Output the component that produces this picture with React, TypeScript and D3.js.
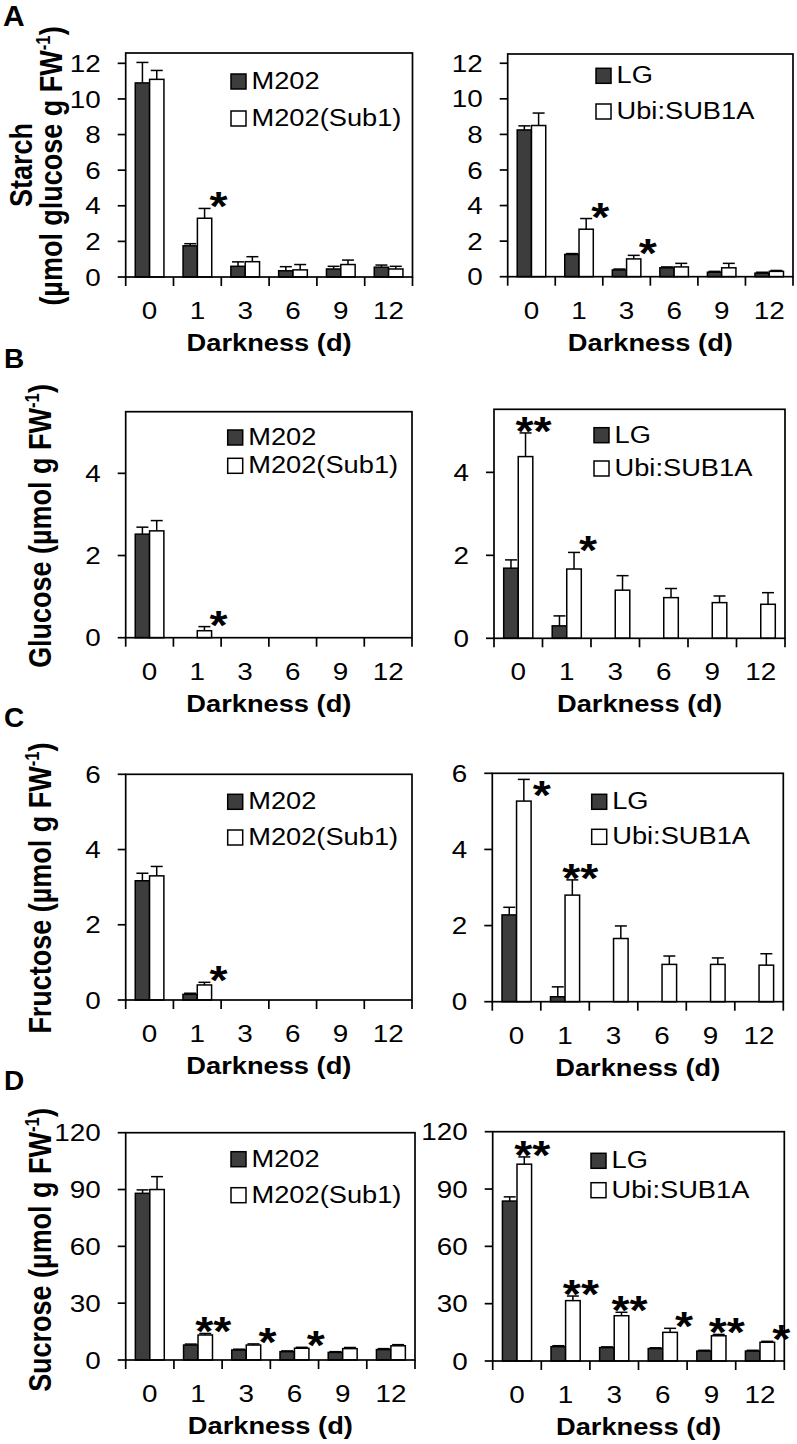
import React from 'react';
import * as d3 from 'd3';

// ---------- data ----------
const DAYS = ['0', '1', '3', '6', '9', '12'];

const starchM202 = [10.9, 1.75, 0.6, 0.35, 0.45, 0.55];
const starchM202Err = [1.15, 0.12, 0.25, 0.23, 0.15, 0.12];
const starchSub1 = [11.1, 3.3, 0.86, 0.4, 0.7, 0.45];
const starchSub1Err = [0.5, 0.55, 0.28, 0.3, 0.25, 0.15];
const starchLG = [8.25, 1.25, 0.38, 0.5, 0.25, 0.2];
const starchLGErr = [0.23, 0.05, 0.05, 0.05, 0.05, 0.05];
const starchUbi = [8.5, 2.67, 1.0, 0.55, 0.5, 0.3];
const starchUbiErr = [0.7, 0.6, 0.2, 0.2, 0.25, 0.05];

const glucoseM202 = [2.52, 0, 0, 0, 0, 0];
const glucoseM202Err = [0.17, 0, 0, 0, 0, 0];
const glucoseSub1 = [2.6, 0.17, 0, 0, 0, 0];
const glucoseSub1Err = [0.25, 0.1, 0, 0, 0, 0];
const glucoseLG = [1.69, 0.3, 0, 0, 0, 0];
const glucoseLGErr = [0.2, 0.24, 0, 0, 0, 0];
const glucoseUbi = [4.38, 1.67, 1.16, 0.98, 0.86, 0.82];
const glucoseUbiErr = [0.57, 0.4, 0.35, 0.22, 0.16, 0.28];

const fructoseM202 = [3.17, 0.15, 0, 0, 0, 0];
const fructoseM202Err = [0.2, 0.03, 0, 0, 0, 0];
const fructoseSub1 = [3.3, 0.4, 0, 0, 0, 0];
const fructoseSub1Err = [0.25, 0.07, 0, 0, 0, 0];
const fructoseLG = [2.28, 0.13, 0, 0, 0, 0];
const fructoseLGErr = [0.2, 0.26, 0, 0, 0, 0];
const fructoseUbi = [5.27, 2.8, 1.66, 0.98, 0.98, 0.96];
const fructoseUbiErr = [0.57, 0.4, 0.33, 0.22, 0.17, 0.3];

const sucroseM202 = [88, 7.9, 5.3, 4.4, 4.0, 5.5];
const sucroseM202Err = [1.8, 0.5, 0.4, 0.4, 0.4, 0.5];
const sucroseSub1 = [90, 13.2, 7.9, 6.2, 6.0, 7.5];
const sucroseSub1Err = [6.8, 0.8, 0.6, 0.5, 0.6, 0.6];
const sucroseLG = [83.7, 7.5, 7.0, 6.5, 5.2, 5.2];
const sucroseLGErr = [2.2, 0.5, 0.4, 0.4, 0.4, 0.4];
const sucroseUbi = [103, 31.6, 23.7, 15, 13.2, 9.8];
const sucroseUbiErr = [3.8, 2.4, 1.8, 2.1, 0.7, 0.5];

const starchTicks = [0, 2, 4, 6, 8, 10, 12];
const glucoseTicks = [0, 2, 4];
const fructoseTicks = [0, 2, 4, 6];
const sucroseTicks = [0, 30, 60, 90, 120];

const leftNames = ['M202', 'M202(Sub1)'];
const rightNames = ['LG', 'Ubi:SUB1A'];

// significance marks: i = index into DAYS
const starsAL = [{ i: 1, s: '*' }];
const starsAR = [{ i: 1, s: '*' }, { i: 2, s: '*' }];
const starsBL = [{ i: 1, s: '*' }];
const starsBR = [{ i: 0, s: '**' }, { i: 1, s: '*' }];
const starsCL = [{ i: 1, s: '*' }];
const starsCR = [{ i: 0, s: '*' }, { i: 1, s: '**' }];
const starsDL = [{ i: 1, s: '**' }, { i: 2, s: '*' }, { i: 3, s: '*' }];
const starsDR = [
  { i: 0, s: '**' }, { i: 1, s: '**' }, { i: 2, s: '**' },
  { i: 3, s: '*' }, { i: 4, s: '**' }, { i: 5, s: '*' },
];

// ---------- style ----------
const SX = 1.16;
const FONT = '"Liberation Sans", Arial, Helvetica, sans-serif';
const DARK = '#3d3d3d';

type TProps = {
  x: number; y: number; size: number; bold?: boolean; anchor?: string;
  rotate?: boolean; plain?: boolean; children: React.ReactNode;
};
function T({ x, y, size, bold, anchor, rotate, plain, children }: TProps) {
  const s = plain ? 1 : SX;
  const tf = rotate
    ? `translate(${x},${y}) rotate(-90) scale(1,${s})`
    : `translate(${x},${y}) scale(${s},1)`;
  return (
    <text transform={tf} fontSize={size} fontWeight={bold ? 'bold' : 'normal'}
      textAnchor={anchor || 'start'} fontFamily={FONT} fill="#000">
      {children}
    </text>
  );
}

function Unit() {
  return (
    <>
      <tspan fontSize="0.62em" dy="-0.6em">-1</tspan>
      <tspan dy="0.37em">)</tspan>
    </>
  );
}

type PanelProps = {
  left: number; right: number; top: number; zero: number; ymax: number;
  ticks: number[];
  a: number[]; aErr: number[]; b: number[]; bErr: number[];
  names: string[];
  leg: { x: number; y: number; gap: number };
  stars: { i: number; s: string }[];
};

function Panel(p: PanelProps) {
  const x = d3.scaleBand<string>().domain(DAYS).range([p.left, p.right]).padding(0);
  const y = d3.scaleLinear().domain([0, p.ymax]).range([p.zero, p.top]);
  const bw = x.bandwidth() * 0.3;
  const cap = 6;
  const bounds = [...DAYS.map((d) => x(d) as number), p.right];

  const bars = (vals: number[], errs: number[], side: number, fill: string) =>
    vals.map((v, i) => {
      const cx = (x(DAYS[i]) as number) + x.bandwidth() / 2;
      const x0 = side === 0 ? cx - bw : cx;
      const yt = y(v);
      const ye = y(v + errs[i]);
      return (
        <g key={`${side}-${i}`}>
          {v > 0 && (
            <rect x={x0} y={yt} width={bw} height={p.zero - yt} fill={fill}
              stroke="#000" strokeWidth={1.5} />
          )}
          {errs[i] > 0 && (
            <>
              <line x1={x0 + bw / 2} x2={x0 + bw / 2} y1={yt} y2={ye} stroke="#000" strokeWidth={1.5} />
              <line x1={x0 + bw / 2 - cap} x2={x0 + bw / 2 + cap} y1={ye} y2={ye} stroke="#000" strokeWidth={1.5} />
            </>
          )}
        </g>
      );
    });

  const starEls = p.stars.map((st, k) => {
    const cx = (x(DAYS[st.i]) as number) + x.bandwidth() / 2 + bw / 2;
    const ye = y(p.b[st.i] + p.bErr[st.i]);
    const fs = 40;
    let sy = ye - 10; // star centre
    let sx = cx + (st.s.length === 2 ? 8 : 14);
    if (sy - 8 < p.top) {
      sy = ye + 8;
      sx = cx + 18;
    }
    return (
      <T key={k} x={sx} y={sy + fs * 0.55} size={fs} bold anchor="middle">
        {st.s}
      </T>
    );
  });

  const midX = (p.left + p.right) / 2;

  return (
    <g>
      {bars(p.a, p.aErr, 0, DARK)}
      {bars(p.b, p.bErr, 1, '#fff')}
      <rect x={p.left} y={p.top} width={p.right - p.left} height={p.zero - p.top}
        fill="none" stroke="#000" strokeWidth={1.7} />
      {p.ticks.map((t) => (
        <g key={t}>
          <line x1={p.left - 8} x2={p.left} y1={y(t)} y2={y(t)} stroke="#000" strokeWidth={1.7} />
          <T x={p.left - 25} y={y(t) + 8.6} size={24} anchor="end">{t}</T>
        </g>
      ))}
      {bounds.map((bx, i) => (
        <line key={i} x1={bx} x2={bx} y1={p.zero} y2={p.zero + 9} stroke="#000" strokeWidth={1.7} />
      ))}
      {DAYS.map((d) => (
        <T key={d} x={(x(d) as number) + x.bandwidth() / 2} y={p.zero + 42} size={24} anchor="middle">{d}</T>
      ))}
      <T x={midX} y={p.zero + 74} size={23.5} bold anchor="middle">Darkness (d)</T>
      {/* legend */}
      <rect x={p.leg.x} y={p.leg.y} width={15} height={15} fill={DARK} stroke="#000" strokeWidth={1.5} />
      <T x={p.leg.x + 20.5} y={p.leg.y + 15} size={23.5}>{p.names[0]}</T>
      <rect x={p.leg.x} y={p.leg.y + p.leg.gap} width={15} height={15} fill="#fff" stroke="#000" strokeWidth={1.5} />
      <T x={p.leg.x + 20.5} y={p.leg.y + p.leg.gap + 15} size={23.5}>{p.names[1]}</T>
      {starEls}
    </g>
  );
}

export default function App() {
  return (
    <svg width={797} height={1444} style={{ position: 'absolute', left: 0, top: 0, background: '#fff' }}>
      <rect x={0} y={0} width={797} height={1444} fill="#fff" />
      {/* Panel letters */}
      <T x={3} y={26} size={30} bold plain>A</T>
      <T x={4} y={368} size={28} bold plain>B</T>
      <T x={4} y={727} size={28} bold plain>C</T>
      <T x={4} y={1090} size={28} bold plain>D</T>

      {/* Y titles */}
      <T x={32} y={165} size={27} bold rotate anchor="middle">Starch</T>
      <T x={62} y={166} size={27} bold rotate anchor="middle">(µmol glucose g FW<Unit /></T>
      <T x={51} y={526} size={27} bold rotate anchor="middle">Glucose (µmol g FW<Unit /></T>
      <T x={51} y={888} size={27} bold rotate anchor="middle">Fructose (µmol g FW<Unit /></T>
      <T x={51} y={1250} size={27} bold rotate anchor="middle">Sucrose (µmol g FW<Unit /></T>

      <Panel left={125.7} right={412.5} top={53} zero={277} ymax={12.58} ticks={starchTicks}
        a={starchM202} aErr={starchM202Err} b={starchSub1} bErr={starchSub1Err}
        names={leftNames} leg={{ x: 231, y: 74, gap: 37 }} stars={starsAL} />
      <Panel left={507.7} right={793} top={54} zero={276.7} ymax={12.52} ticks={starchTicks}
        a={starchLG} aErr={starchLGErr} b={starchUbi} bErr={starchUbiErr}
        names={rightNames} leg={{ x: 596, y: 68.3, gap: 35.7 }} stars={starsAR} />

      <Panel left={125.7} right={412} top={411.7} zero={637.7} ymax={5.5} ticks={glucoseTicks}
        a={glucoseM202} aErr={glucoseM202Err} b={glucoseSub1} bErr={glucoseSub1Err}
        names={leftNames} leg={{ x: 227.7, y: 430, gap: 28.3 }} stars={starsBL} />
      <Panel left={494} right={785} top={409.3} zero={638.3} ymax={5.52} ticks={glucoseTicks}
        a={glucoseLG} aErr={glucoseLGErr} b={glucoseUbi} bErr={glucoseUbiErr}
        names={rightNames} leg={{ x: 594, y: 427.7, gap: 33.3 }} stars={starsBR} />

      <Panel left={125.7} right={412} top={774.3} zero={1000} ymax={6} ticks={fructoseTicks}
        a={fructoseM202} aErr={fructoseM202Err} b={fructoseSub1} bErr={fructoseSub1Err}
        names={leftNames} leg={{ x: 227.7, y: 794.3, gap: 35.7 }} stars={starsCL} />
      <Panel left={492.3} right={783.3} top={773.3} zero={1001.7} ymax={6} ticks={fructoseTicks}
        a={fructoseLG} aErr={fructoseLGErr} b={fructoseUbi} bErr={fructoseUbiErr}
        names={rightNames} leg={{ x: 591.7, y: 794.3, gap: 35 }} stars={starsCR} />

      <Panel left={125.7} right={415} top={1132.7} zero={1360} ymax={120} ticks={sucroseTicks}
        a={sucroseM202} aErr={sucroseM202Err} b={sucroseSub1} bErr={sucroseSub1Err}
        names={leftNames} leg={{ x: 231, y: 1151.7, gap: 36 }} stars={starsDL} />
      <Panel left={492.7} right={784.3} top={1131.7} zero={1361} ymax={120} ticks={sucroseTicks}
        a={sucroseLG} aErr={sucroseLGErr} b={sucroseUbi} bErr={sucroseUbiErr}
        names={rightNames} leg={{ x: 591, y: 1153.3, gap: 29.4 }} stars={starsDR} />
    </svg>
  );
}
